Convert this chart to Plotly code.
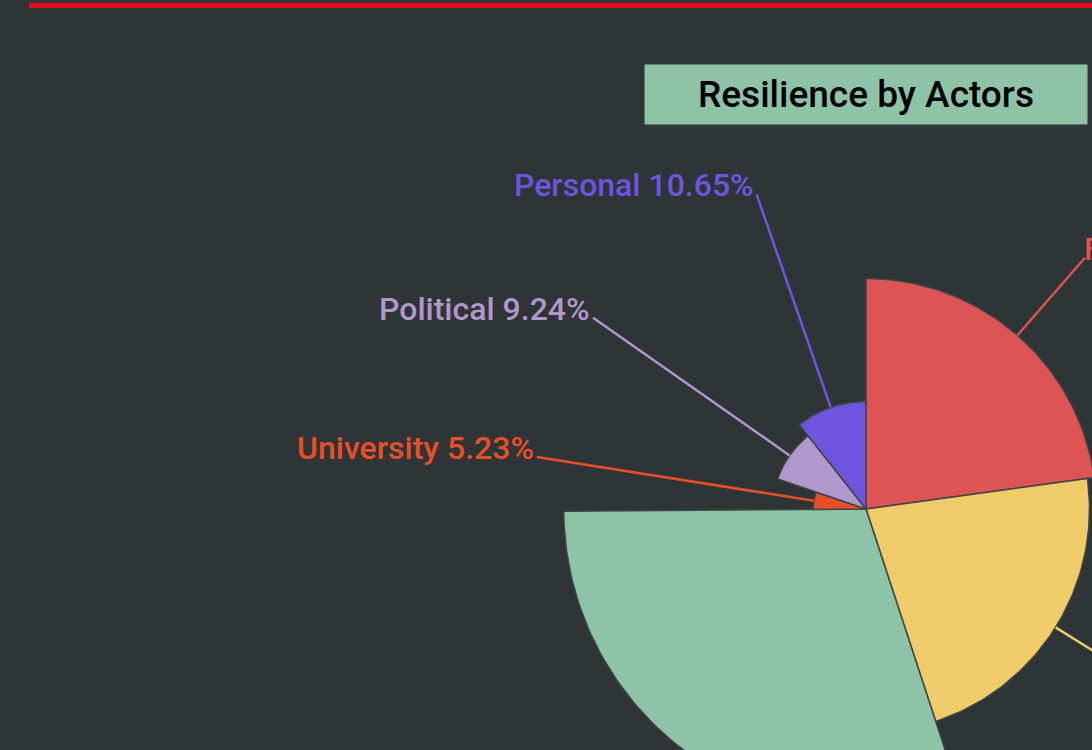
import math

import plotly.graph_objects as go

# chart data, clockwise from 12 o'clock
names = ["Family", "Friends", "Community", "University", "Political", "Personal"]
values = [22.82, 22.13, 29.93, 5.23, 9.24, 10.65]
colors = ["#dc5454", "#efcb6a", "#8ec3a8", "#e65028", "#b098cc", "#6e55e0"]
title = "Resilience by Actors"

WIDTH, HEIGHT = 1092, 750
CX, CY = 866, 509  # pie centre in px
PX_PER_UNIT = 10.1  # radius scale (rose type)
LABEL_R = 33.0
BG = "#2f3436"


def polar(r: float, deg: float) -> tuple[float, float]:
    rad = math.radians(deg)
    return r * math.cos(rad), r * math.sin(rad)


def sector(r: float, a0: float, a1: float, steps: int = 80) -> tuple[list, list]:
    xs, ys = [0.0], [0.0]
    for i in range(steps + 1):
        x, y = polar(r, a0 + (a1 - a0) * i / steps)
        xs.append(x)
        ys.append(y)
    xs.append(0.0)
    ys.append(0.0)
    return xs, ys


fig = go.Figure()

total = sum(values)
start = 90.0
annotations = []
for name, value, color in zip(names, values, colors):
    span = value / total * 360.0
    end = start - span
    xs, ys = sector(value, start, end)
    fig.add_trace(
        go.Scatter(
            x=xs,
            y=ys,
            mode="lines",
            fill="toself",
            fillcolor=color,
            line=dict(color="#3f4446", width=1.5),
            hoverinfo="skip",
            showlegend=False,
        )
    )

    mid = (start + end) / 2
    x0, y0 = polar(value, mid)
    x1, y1 = polar(LABEL_R, mid)
    fig.add_trace(
        go.Scatter(
            x=[x0, x1],
            y=[y0, y1],
            mode="lines",
            line=dict(color=color, width=2.5),
            hoverinfo="skip",
            showlegend=False,
        )
    )
    left = x1 < 0
    annotations.append(
        dict(
            x=x1,
            y=y1,
            xref="x",
            yref="y",
            text=f"{name} {value:.2f}%",
            showarrow=False,
            xanchor="right" if left else "left",
            yanchor="middle",
            yshift=9,
            xshift=-1 if left else -3,
            font=dict(family="Roboto", size=32, color=color, weight=500),
        )
    )
    start = end

annotations.append(
    dict(
        x=CX / WIDTH,
        y=1 - 94.5 / HEIGHT,
        xref="paper",
        yref="paper",
        text=title,
        showarrow=False,
        xanchor="center",
        yanchor="middle",
        width=442,
        height=59,
        borderpad=0,
        bgcolor="#8ec3a8",
        font=dict(family="Roboto", size=37, color="#000000", weight=500),
    )
)

fig.update_layout(
    width=WIDTH,
    height=HEIGHT,
    margin=dict(l=0, r=0, t=0, b=0),
    paper_bgcolor=BG,
    plot_bgcolor=BG,
    xaxis=dict(
        range=[-CX / PX_PER_UNIT, (WIDTH - CX) / PX_PER_UNIT],
        visible=False,
        fixedrange=True,
    ),
    yaxis=dict(
        range=[-(HEIGHT - CY) / PX_PER_UNIT, CY / PX_PER_UNIT],
        visible=False,
        fixedrange=True,
    ),
    annotations=annotations,
    shapes=[
        dict(
            type="line",
            xref="paper",
            yref="paper",
            x0=29 / WIDTH,
            x1=1,
            y0=1 - 5.5 / HEIGHT,
            y1=1 - 5.5 / HEIGHT,
            line=dict(color="#e00d20", width=5),
        )
    ],
)

fig.write_html(
    "out.html",
    config={"displayModeBar": False},
    post_script=f"document.body.style.margin='0';document.body.style.background='{BG}';",
)
